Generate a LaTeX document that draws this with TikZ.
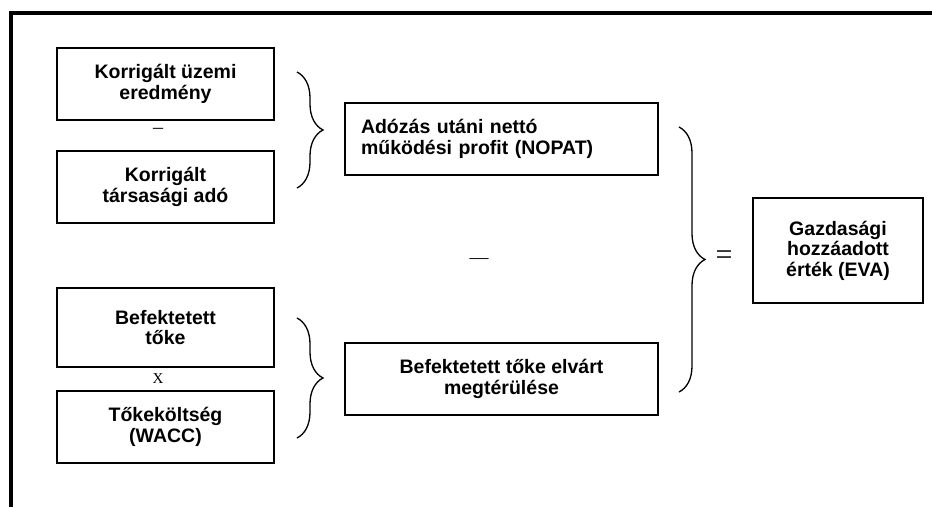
\documentclass[tikz,border=0pt]{standalone}
\usepackage{fontspec}
\setmainfont{Liberation Sans}
\newfontfamily\opfont{Liberation Serif}
\usetikzlibrary{decorations.pathreplacing}

\begin{document}
\begin{tikzpicture}[x=1pt,y=-1pt,
  box/.style={draw,line width=1.6pt,minimum height=72pt,inner sep=0pt,align=center,
    font=\fontsize{19.5}{20.5}\selectfont\bfseries},
  op/.style={inner sep=0pt,font=\opfont},
  kapocs/.style={decorate,decoration={brace,amplitude=26pt},line width=1.3pt}]
\useasboundingbox (0,0) rectangle (932,507);
\draw[line width=4pt] (10.5,507) -- (10.5,13) -- (932,13);

% bal oszlop
\node[box,minimum width=217pt] (uzemi) at (165.5,84) {Korrigált üzemi\\eredmény};
\node[box,minimum width=217pt] (tarsasagi) at (165.5,187) {Korrigált\\társasági adó};
\node[box,minimum width=217pt,minimum height=79pt] (befektetett) at (165.5,327.5) {Befektetett\\tőke};
\node[box,minimum width=217pt] (wacc) at (165.5,427) {Tőkeköltség\\(WACC)};
\node[op,font=\opfont\fontsize{20}{20}\selectfont] (minus1) at (158,131) {–};
\node[op,font=\opfont\fontsize{15}{15}\selectfont] (times) at (158,379) {X};

% kapcsok
\draw[kapocs] (297,72) -- (297,188);
\draw[kapocs] (297,318) -- (297,438);

% kozepso oszlop
\node[box,minimum width=313pt,text width=281pt,align=left] (nopat) at (501.5,139)
  {Adózás utáni nettó\\működési profit (NOPAT)};
\node[box,minimum width=313pt] (elvart) at (501.5,379) {Befektetett tőke elvárt\\megtérülése};
\node[op,font=\opfont\fontsize{19}{19}\selectfont] (minus2) at (479,261) {—};

% eredmeny
\draw[kapocs] (679,127) -- (679,392);
\node[op,font=\opfont\fontsize{30}{30}\selectfont] (equals) at (724,258) {=};
\node[box,minimum width=170pt,minimum height=105pt] (eva) at (838,250.5)
  {Gazdasági\\hozzáadott\\érték (EVA)};
\end{tikzpicture}
\end{document}
